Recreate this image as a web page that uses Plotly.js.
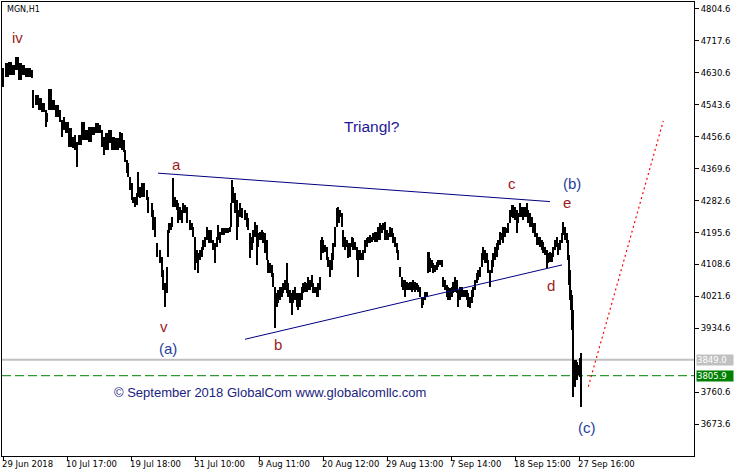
<!DOCTYPE html>
<html><head><meta charset="utf-8">
<script src="https://cdn.plot.ly/plotly-3.0.1.min.js"></script>
<style>html,body{margin:0;padding:0;background:#fff;}#chart{width:738px;height:473px;}</style>
</head><body><div id="chart"></div>
<script>
// Hourly bars (bar number, high, low)
const barPos = [0,4,7,10,14,17,20,24,27,29,30,34,37,40,43,44,47,50,54,57,59,61,64,67,70,72,74,77,80,84,87,90,94,97,99,101,104,107,110,114,117,119,121,122,124,125,127,129,130,132,134,135,137,140,144,145,149,150,152,154,157,159,160,162,164,165,166,168,169,170,172,174,175,177,179,180,182,184,187,189,190,192,194,195,197,199,200,202,204,207,210,212,214,215,217,220,224,227,228,229,230,232,234,235,237,239,242,244,245,247,249,250,252,254,255,257,259,260,262,264,265,267,269,270,272,274,275,277,279,280,282,284,285,287,289,290,292,294,295,297,299,300,302,304,305,307,309,310,312,314,315,317,318,319,320,322,324,325,327,329,330,332,334,335,336,337,339,340,342,344,345,347,349,350,352,354,355,356,357,359,360,362,364,365,367,369,370,372,374,375,377,379,380,382,384,385,387,389,390,392,394,395,397,399,400,402,404,405,407,409,410,412,414,415,417,419,420,422,424,425,426,427,429,430,432,434,435,437,439,440,442,444,445,447,449,450,452,454,455,457,459,460,462,464,465,467,469,470,472,474,475,477,479,480,482,484,485,487,489,490,492,494,495,497,499,500,502,504,505,507,509,510,512,514,515,517,519,520,522,524,525,527,529,530,532,534,535,537,539,540,542,544,545,547,549,550,552,554,555,557,559,560,562,564,565,566,567,568,569,570,571,572,573,574,576,577,578];
const barHigh = [4644,4658,4660,4652,4674,4658,4652,4644,4644,4639,4584,4570,4562,4549,4530,4521,4587,4557,4543,4530,4502,4511,4497,4481,4456,4462,4442,4462,4497,4475,4483,4483,4494,4489,4475,4456,4467,4475,4456,4453,4470,4467,4448,4421,4393,4385,4347,4331,4293,4293,4303,4361,4320,4331,4312,4293,4276,4257,4238,4167,4148,4129,4094,4058,4102,4203,4222,4222,4238,4344,4293,4284,4276,4265,4257,4276,4271,4265,4230,4222,4211,4184,4148,4140,4148,4156,4176,4184,4211,4203,4176,4167,4184,4216,4197,4208,4208,4211,4276,4339,4320,4303,4284,4257,4276,4263,4257,4249,4235,4195,4184,4203,4225,4216,4195,4197,4203,4197,4195,4176,4121,4113,4107,4086,4048,4031,4039,4048,4048,4058,4067,4113,4058,4039,4031,4039,4048,4031,4031,4031,4048,4058,4061,4058,4075,4067,4080,4058,4048,4048,4058,4075,4176,4184,4176,4162,4156,4129,4121,4140,4167,4211,4263,4265,4257,4257,4249,4203,4184,4176,4167,4167,4184,4181,4170,4156,4129,4148,4148,4140,4148,4176,4181,4184,4189,4184,4195,4197,4197,4211,4222,4216,4222,4225,4203,4195,4211,4208,4195,4184,4167,4148,4102,4075,4067,4067,4061,4058,4061,4061,4067,4061,4058,4053,4048,4020,4020,4034,4034,4143,4143,4127,4121,4113,4107,4116,4121,4121,4121,4075,4067,4053,4048,4045,4048,4061,4075,4067,4039,4048,4048,4039,4039,4039,4031,4020,4039,4048,4067,4086,4094,4102,4140,4156,4148,4140,4121,4094,4121,4140,4156,4167,4176,4197,4195,4211,4211,4208,4222,4257,4271,4271,4265,4257,4249,4276,4265,4265,4265,4276,4257,4249,4238,4222,4222,4195,4184,4184,4176,4170,4156,4148,4140,4143,4140,4156,4176,4184,4167,4176,4195,4225,4211,4195,4176,4135,4094,4039,4026,3985,3843,3849,3849,3843,3835,3854,3868];
const barLow = [4592,4619,4625,4625,4639,4611,4625,4619,4619,4617,4535,4543,4530,4524,4483,4497,4530,4530,4511,4497,4456,4475,4467,4429,4426,4421,4374,4434,4448,4448,4442,4462,4467,4467,4429,4407,4421,4440,4421,4421,4426,4421,4415,4388,4358,4347,4312,4284,4276,4265,4271,4293,4290,4293,4284,4249,4238,4203,4184,4129,4113,4075,4039,3993,4031,4129,4195,4203,4211,4265,4265,4257,4222,4230,4222,4249,4249,4222,4203,4203,4184,4094,4113,4086,4121,4129,4148,4156,4176,4167,4148,4113,4156,4176,4167,4189,4195,4197,4211,4276,4276,4249,4176,4211,4238,4235,4230,4211,4203,4127,4148,4167,4184,4107,4156,4176,4176,4167,4140,4121,4086,4086,4075,4048,3936,3993,4004,4012,4020,4031,4039,4031,4020,4004,3971,4004,4012,3993,3985,3993,4012,4031,4034,4034,4039,4039,4048,4031,4031,4020,4020,4039,4121,4148,4140,4143,4121,4102,4075,4094,4121,4156,4211,4230,4222,4238,4211,4156,4148,4156,4127,4129,4156,4148,4148,4121,4075,4121,4121,4121,4121,4140,4156,4167,4167,4170,4176,4170,4170,4176,4176,4195,4203,4176,4176,4176,4184,4184,4167,4156,4140,4121,4075,4048,4039,4020,4039,4039,4039,4034,4039,4034,4039,4034,4020,3990,3999,4012,4020,4086,4094,4088,4099,4086,4088,4094,4102,4107,4102,4048,4039,4020,4012,4012,4020,4031,4034,4031,3993,4012,4020,4020,4020,4012,3993,3990,4004,4020,4039,4058,4067,4075,4102,4121,4113,4113,4086,4048,4086,4102,4121,4129,4148,4162,4176,4167,4184,4195,4195,4222,4238,4235,4230,4195,4222,4238,4238,4230,4238,4238,4222,4211,4211,4195,4184,4162,4162,4156,4148,4140,4135,4099,4113,4116,4116,4129,4148,4156,4135,4148,4167,4189,4176,4167,4121,4053,4012,3985,3930,3748,3781,3775,3813,3794,3808,3802,3721];

const tickPos = [0,64,128,192,256,320,384,448,512,576];
const tickLabels = ["29 Jun 2018","10 Jul 17:00","19 Jul 18:00","31 Jul 10:00","9 Aug 11:00","20 Aug 12:00","29 Aug 13:00","7 Sep 14:00","18 Sep 15:00","27 Sep 16:00"];
const priceTicks = [3673.6,3760.6,3934.6,4021.6,4108.6,4195.6,4282.6,4369.6,4456.6,4543.6,4630.6,4717.6,4804.6];

const upperLineX = [155,547], upperLineY = [4357.2,4279.8];
const lowerLineX = [242,559], lowerLineY = [3905.1,4107.4];
const projX = [585.3,660.3], projY = [3776,4499.6];
const grayLevel = 3849.0, lastPrice = 3805.9;

const waveText  = ["iv","v","(a)","a","b","c","d","e","(b)","(c)"];
const wavePos   = [14.5,161,164.5,173,274.5,509,547.5,564,569,583.5];
const wavePrice = [4725.6,3938.6,3878.7,4379.8,3889.6,4328.0,4050.2,4276.3,4328.0,3666.2];

const RED = "#9C1C1C", BLUE = "#24409C";
const waveColor = waveText.map(t => t.startsWith("(") ? BLUE : RED);

// bar widths built from bar positions so neighbouring bars touch
const barWidth = barPos.map((p,i) => {
  const prev = i>0 ? p - barPos[i-1] : 1;
  const next = i<barPos.length-1 ? barPos[i+1] - p : 1;
  return Math.min(3.2, Math.max(1.1, (prev+next)/2 + 0.1));
});

const traces = [
  {type:"bar", x:barPos, base:barLow, y:barHigh.map((h,i)=>h-barLow[i]), width:barWidth,
   marker:{color:"#000", line:{width:0}}, hoverinfo:"skip", showlegend:false},
  {type:"scatter", mode:"lines", x:upperLineX, y:upperLineY, line:{color:"#000080", width:1}, hoverinfo:"skip", showlegend:false},
  {type:"scatter", mode:"lines", x:lowerLineX, y:lowerLineY, line:{color:"#000080", width:1}, hoverinfo:"skip", showlegend:false},
  {type:"scatter", mode:"lines", x:projX, y:projY, line:{color:"#ff0000", width:1.2, dash:"2px,3px"}, hoverinfo:"skip", showlegend:false}
];

const FONT = "Liberation Sans, Arial, sans-serif";
const TFONT = "DejaVu Sans, Tahoma, sans-serif";

const annotations = waveText.map((t,i)=>({
  x:wavePos[i], y:wavePrice[i], xref:"x", yref:"y", text:t, showarrow:false,
  font:{family:FONT, size:15, color:waveColor[i]}, xanchor:"center", yanchor:"middle"
}));
annotations.push(
  {x:369, y:4483.2, xref:"x", yref:"y", text:"Triangl?", showarrow:false, font:{family:FONT, size:15.5, color:"#1E1496"}},
  {x:267, y:3758.9, xref:"x", yref:"y", text:"© September 2018 GlobalCom www.globalcomllc.com", showarrow:false, font:{family:FONT, size:13, color:"#1A237E"}},
  {x:0, y:4801.9, xref:"x", yref:"y", text:"MGN,H1", showarrow:false, xanchor:"left", xshift:2, font:{family:TFONT, size:8, color:"#000"}},
  {x:1, xref:"paper", y:grayLevel, yref:"y", text:grayLevel.toFixed(1), showarrow:false, xanchor:"left", xshift:2,
   bgcolor:"#c0c0c0", borderpad:0, width:36, align:"left", font:{family:TFONT, size:8.5, color:"#fff"}},
  {x:1, xref:"paper", y:lastPrice, yref:"y", text:lastPrice.toFixed(1), showarrow:false, xanchor:"left", xshift:2,
   bgcolor:"#008000", borderpad:0, width:36, align:"left", font:{family:TFONT, size:8.5, color:"#fff"}}
);

const layout = {
  width:738, height:473,
  margin:{l:2, r:44, t:2, b:17, pad:0},
  paper_bgcolor:"#fff", plot_bgcolor:"#fff",
  showlegend:false, bargap:0,
  xaxis:{range:[-1,691], showgrid:false, zeroline:false, showline:true, mirror:true, linecolor:"#000", linewidth:1,
         ticks:"outside", ticklen:4, tickcolor:"#000", tickvals:tickPos, ticktext:tickLabels, tickangle:0,
         ticklabelposition:"outside right", ticklabelstandoff:0, ticklabelshift:-2,
         tickfont:{family:TFONT, size:8.5, color:"#000"}, fixedrange:true, automargin:false},
  yaxis:{range:[3587.3,4823.1], side:"right", showgrid:false, zeroline:false, showline:true, mirror:true, linecolor:"#000", linewidth:1,
         ticks:"outside", ticklen:4, tickcolor:"#000", tickvals:priceTicks, ticktext:priceTicks.map(v=>v.toFixed(1)),
         tickfont:{family:TFONT, size:8.5, color:"#000"}, fixedrange:true, automargin:false},
  shapes:[
    {type:"line", xref:"paper", x0:0, x1:1, yref:"y", y0:grayLevel, y1:grayLevel, line:{color:"#c0c0c0", width:2}, layer:"below"},
    {type:"line", xref:"paper", x0:0, x1:1, yref:"y", y0:lastPrice, y1:lastPrice, line:{color:"#008000", width:1, dash:"9px,4px"}, layer:"below"}
  ],
  annotations:annotations
};

Plotly.newPlot("chart", traces, layout, {staticPlot:true, displayModeBar:false});
</script>
</body></html>
